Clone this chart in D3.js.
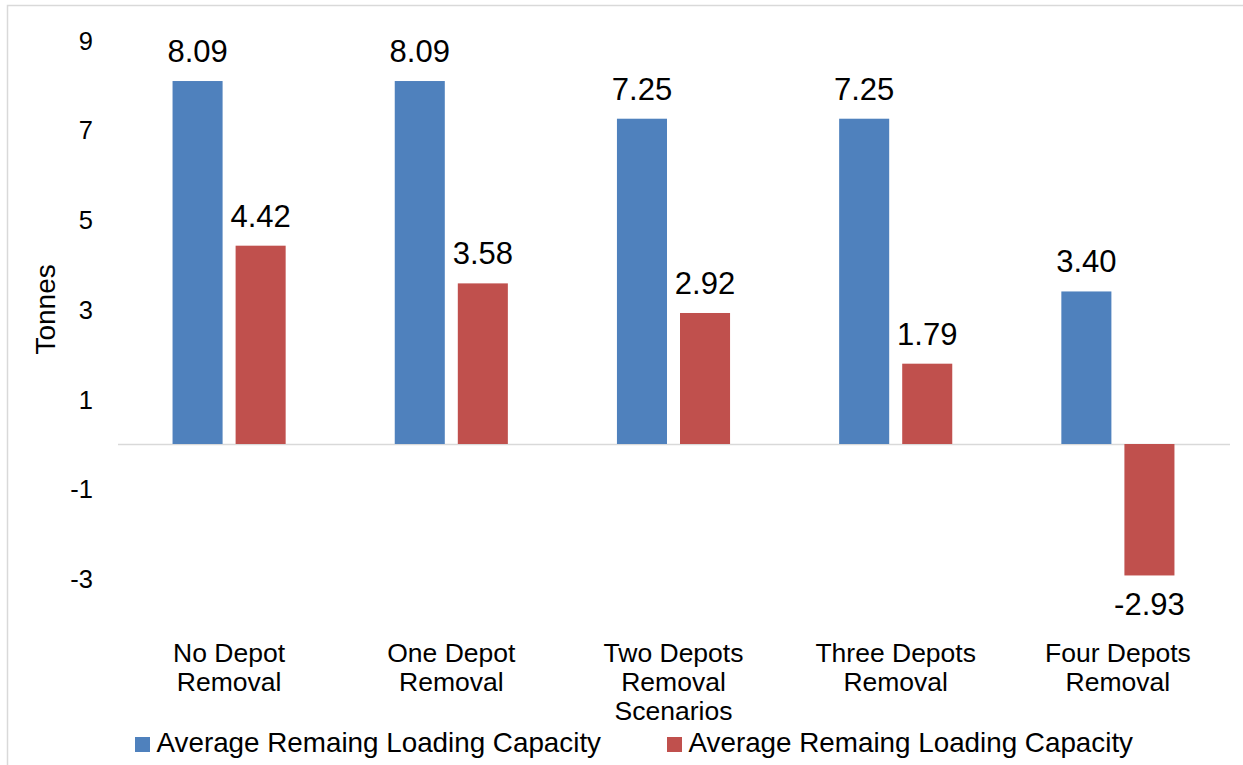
<!DOCTYPE html>
<html>
<head>
<meta charset="utf-8">
<script src="https://cdn.jsdelivr.net/npm/d3@7"></script>
<style>
  html, body { margin: 0; padding: 0; background: #fff; }
  svg { display: block; font-family: "Liberation Sans", Arial, sans-serif; }
</style>
</head>
<body>
<svg id="chart" width="1243" height="765"></svg>
<script>
// Scenario categories (each label split into its display lines)
const categories = [
  "No Depot Removal",
  "One Depot Removal",
  "Two Depots Removal Scenarios",
  "Three Depots Removal",
  "Four Depots Removal"
];
const categoryLines = [
  ["No Depot", "Removal"],
  ["One Depot", "Removal"],
  ["Two Depots", "Removal", "Scenarios"],
  ["Three Depots", "Removal"],
  ["Four Depots", "Removal"]
];

// Two series, both labelled the same in the legend
const seriesNames = ["seriesA", "seriesB"];
const seriesLabels = ["Average Remaing Loading Capacity", "Average Remaing Loading Capacity"];
const seriesA = [8.09, 8.09, 7.25, 7.25, 3.40];
const seriesB = [4.42, 3.58, 2.92, 1.79, -2.93];
const seriesColors = ["#4f81bd", "#c0504d"];

const yTicks = [9, 7, 5, 3, 1, -1, -3];

const svg = d3.select("#chart");

// outer frame
svg.append("path")
  .attr("d", "M7.5,1000 V5.5 H1300")
  .attr("fill", "none")
  .attr("stroke", "#d9d9d9")
  .attr("stroke-width", 1.5);

const x = d3.scaleBand().domain(categories).range([118, 1229]).paddingInner(0).paddingOuter(0);
const xs = d3.scaleBand().domain(seriesNames).range([0, x.bandwidth()])
  .paddingInner(13 / 63).paddingOuter(0.865);
const y = d3.scaleLinear().domain([-3, 9]).range([578.6, 40.2]);

// y tick labels (no axis line); plain hyphen for negatives
const yAxis = d3.axisLeft(y).tickValues(yTicks).tickSize(0).tickPadding(0).tickFormat(d => String(d));
const gy = svg.append("g").attr("transform", "translate(93,0)").call(yAxis);
gy.select(".domain").remove();
gy.selectAll("text")
  .attr("font-family", "Liberation Sans, Arial, sans-serif")
  .attr("font-size", 25.5)
  .attr("fill", "#000")
  .attr("dy", "0.35em");

// y axis title
svg.append("text")
  .attr("transform", `translate(55,${y(3)}) rotate(-90)`)
  .attr("text-anchor", "middle")
  .attr("font-size", 28)
  .attr("fill", "#000")
  .text("Tonnes");

// zero baseline
svg.append("line")
  .attr("x1", 118).attr("x2", 1230)
  .attr("y1", y(0) + 0.5).attr("y2", y(0) + 0.5)
  .attr("stroke", "#d9d9d9").attr("stroke-width", 1.5);

// bars
const rows = categories.map((c, i) => ({ cat: c, values: [seriesA[i], seriesB[i]] }));
const groups = svg.selectAll("g.cat").data(rows).join("g")
  .attr("class", "cat")
  .attr("transform", d => `translate(${x(d.cat)},0)`);

groups.selectAll("rect").data(d => d.values.map((v, k) => ({ v, k }))).join("rect")
  .attr("x", d => xs(seriesNames[d.k]))
  .attr("width", xs.bandwidth())
  .attr("y", d => Math.min(y(d.v), y(0)))
  .attr("height", d => Math.abs(y(d.v) - y(0)))
  .attr("fill", d => seriesColors[d.k]);

// value labels
groups.selectAll("text.val").data(d => d.values.map((v, k) => ({ v, k }))).join("text")
  .attr("class", "val")
  .attr("x", d => xs(seriesNames[d.k]) + xs.bandwidth() / 2)
  .attr("y", d => d.v >= 0 ? y(d.v) - 19 : y(d.v) + 40)
  .attr("text-anchor", "middle")
  .attr("font-size", 31)
  .attr("fill", "#000")
  .text(d => d.v.toFixed(2));

// category labels
categories.forEach((c, i) => {
  const t = svg.append("text")
    .attr("x", x(c) + x.bandwidth() / 2)
    .attr("y", 662)
    .attr("text-anchor", "middle")
    .attr("font-size", 26.5)
    .attr("fill", "#000");
  categoryLines[i].forEach((line, j) => {
    t.append("tspan")
      .attr("x", x(c) + x.bandwidth() / 2)
      .attr("y", 662 + j * 28.8)
      .text(line);
  });
});

// legend
const legendX = [135, 667];
seriesNames.forEach((s, k) => {
  svg.append("rect")
    .attr("x", legendX[k]).attr("y", 737)
    .attr("width", 15).attr("height", 15)
    .attr("fill", seriesColors[k]);
  svg.append("text")
    .attr("x", legendX[k] + 21.5).attr("y", 752)
    .attr("font-size", 27.8)
    .attr("fill", "#000")
    .text(seriesLabels[k]);
});
</script>
</body>
</html>
